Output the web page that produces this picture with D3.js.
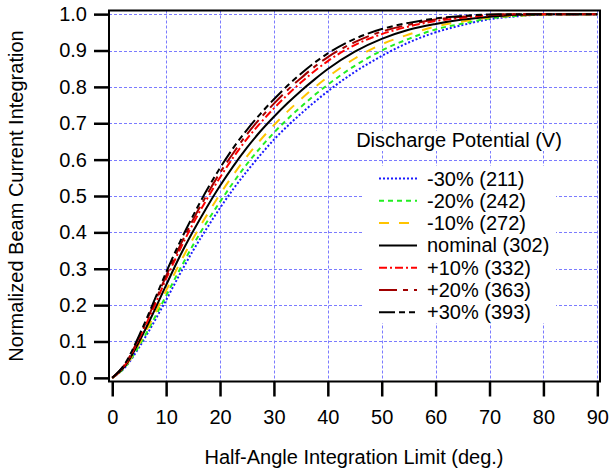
<!DOCTYPE html>
<html>
<head>
<meta charset="utf-8">
<script src="https://cdn.jsdelivr.net/npm/d3@7"></script>
<style>
  html, body { margin: 0; padding: 0; background: #fff; }
  svg { display: block; font-family: "Liberation Sans", Arial, sans-serif; }
</style>
</head>
<body>
<svg id="chart" width="616" height="473"></svg>
<script>
// Half-angle integration limit (deg.)
const angles = [0, 2.5, 5, 7.5, 10, 12.5, 15, 17.5, 20, 22.5, 25, 27.5, 30, 32.5, 35, 37.5, 40, 45, 50, 55, 60, 65, 70, 75, 80, 85, 90];

// Normalized beam current integration for each discharge potential
const minus30 = [0, 0.031, 0.084, 0.147, 0.214, 0.284, 0.350, 0.410, 0.467, 0.520, 0.568, 0.613, 0.655, 0.692, 0.726, 0.758, 0.788, 0.841, 0.885, 0.922, 0.950, 0.970, 0.986, 0.994, 0.999, 1.0, 1.0];
const minus20 = [0, 0.032, 0.088, 0.155, 0.226, 0.297, 0.365, 0.427, 0.484, 0.538, 0.588, 0.633, 0.674, 0.711, 0.745, 0.777, 0.806, 0.858, 0.900, 0.932, 0.958, 0.974, 0.988, 0.995, 0.999, 1.0, 1.0];
const minus10 = [0, 0.033, 0.094, 0.164, 0.240, 0.314, 0.383, 0.446, 0.505, 0.559, 0.609, 0.654, 0.695, 0.732, 0.766, 0.798, 0.827, 0.878, 0.917, 0.944, 0.966, 0.980, 0.991, 0.996, 0.999, 1.0, 1.0];
const nominal = [0, 0.035, 0.100, 0.175, 0.255, 0.333, 0.403, 0.468, 0.528, 0.583, 0.633, 0.678, 0.718, 0.755, 0.789, 0.820, 0.849, 0.897, 0.932, 0.957, 0.973, 0.985, 0.993, 0.998, 1.0, 1.0, 1.0];
const plus10 = [0, 0.038, 0.108, 0.187, 0.272, 0.351, 0.424, 0.490, 0.551, 0.607, 0.657, 0.701, 0.741, 0.778, 0.812, 0.843, 0.871, 0.915, 0.945, 0.966, 0.981, 0.990, 0.997, 1.0, 1.0, 1.0, 1.0];
const plus20 = [0, 0.040, 0.112, 0.195, 0.280, 0.361, 0.435, 0.502, 0.564, 0.619, 0.670, 0.714, 0.754, 0.791, 0.824, 0.855, 0.882, 0.923, 0.952, 0.971, 0.985, 0.993, 0.998, 1.0, 1.0, 1.0, 1.0];
const plus30 = [0, 0.042, 0.117, 0.202, 0.290, 0.372, 0.446, 0.515, 0.577, 0.633, 0.682, 0.726, 0.766, 0.803, 0.836, 0.866, 0.892, 0.932, 0.959, 0.976, 0.988, 0.995, 0.999, 1.0, 1.0, 1.0, 1.0];

const seriesLabels = ["-30% (211)", "-20% (242)", "-10% (272)", "nominal (302)", "+10% (332)", "+20% (363)", "+30% (393)"];
const seriesValues = [minus30, minus20, minus10, nominal, plus10, plus20, plus30];
const seriesColors = ["#1a1aff", "#22ee22", "#ffc400", "#000000", "#ff0000", "#a00000", "#000000"];
const seriesDashes = ["2,2", "5,4", "10,10", null, "8,3,2,3", "18,6,5,6", "16,4,6,4,6,4"];

const xTicks = [0, 10, 20, 30, 40, 50, 60, 70, 80, 90];
const yTicks = [0.0, 0.1, 0.2, 0.3, 0.4, 0.5, 0.6, 0.7, 0.8, 0.9, 1.0];

const legendTitle = "Discharge Potential (V)";
const xTitle = "Half-Angle Integration Limit (deg.)";
const yTitle = "Normalized Beam Current Integration";

const fontSize = 20;
const plot = { left: 109, right: 600, top: 10.5, bottom: 381.5 };

const svg = d3.select("#chart");

const x = d3.scaleLinear().domain([-0.6, 90.5]).range([plot.left, plot.right]);
const y = d3.scaleLinear().domain([-0.01, 1.01]).range([plot.bottom, plot.top]);

// grid
const grid = svg.append("g").attr("stroke", "#7b7bff").attr("stroke-width", 1).attr("stroke-dasharray", "3,2");
grid.selectAll("line.gx").data(xTicks.slice(1)).join("line")
  .attr("x1", d => Math.round(x(d)) + 0.5).attr("x2", d => Math.round(x(d)) + 0.5)
  .attr("y1", plot.top).attr("y2", plot.bottom);
grid.selectAll("line.gy").data(yTicks.slice(1)).join("line")
  .attr("x1", plot.left).attr("x2", plot.right)
  .attr("y1", d => Math.round(y(d)) + 0.5).attr("y2", d => Math.round(y(d)) + 0.5);

// curves
svg.append("clipPath").attr("id", "plotclip").append("rect")
  .attr("x", plot.left).attr("y", plot.top)
  .attr("width", plot.right - plot.left).attr("height", plot.bottom - plot.top);

const line = d3.line().x(d => x(d[0])).y(d => y(d[1])).curve(d3.curveMonotoneX);
const curves = svg.append("g").attr("clip-path", "url(#plotclip)");
seriesValues.forEach((vals, i) => {
  curves.append("path")
    .datum(angles.map((a, j) => [a, vals[j]]))
    .attr("fill", "none")
    .attr("stroke", seriesColors[i])
    .attr("stroke-width", 2)
    .attr("stroke-dasharray", seriesDashes[i])
    .attr("d", line);
});

// legend
const lg = svg.append("g");
const titleText = lg.append("text")
  .attr("x", 459).attr("y", 147)
  .attr("text-anchor", "middle")
  .attr("font-size", fontSize)
  .attr("fill", "#000")
  .text(legendTitle);
const tb = titleText.node().getBBox();
lg.insert("rect", "text")
  .attr("x", tb.x).attr("y", tb.y + 2).attr("width", tb.width).attr("height", tb.height - 2)
  .attr("fill", "#fff");
lg.append("rect").attr("x", 363).attr("y", 166).attr("width", 193).attr("height", 157).attr("fill", "#fff");
seriesLabels.forEach((lab, i) => {
  const yy = 178.5 + i * 22.3;
  lg.append("line")
    .attr("x1", 379).attr("x2", 417).attr("y1", yy).attr("y2", yy)
    .attr("stroke", seriesColors[i]).attr("stroke-width", 2)
    .attr("stroke-dasharray", seriesDashes[i]);
  lg.append("text")
    .attr("x", 427).attr("y", yy + 7)
    .attr("font-size", fontSize)
    .attr("fill", "#000")
    .text(lab);
});

// frame
svg.append("rect")
  .attr("x", plot.left).attr("y", plot.top)
  .attr("width", plot.right - plot.left).attr("height", plot.bottom - plot.top)
  .attr("fill", "none").attr("stroke", "#000").attr("stroke-width", 2);

// axes
const xAxis = d3.axisBottom(x).tickValues(xTicks).tickSize(15).tickPadding(13).tickFormat(d3.format("d"));
const gx = svg.append("g").attr("transform", `translate(0,${plot.bottom})`).call(xAxis);
gx.select(".domain").remove();
gx.selectAll(".tick line").attr("stroke", "#000").attr("stroke-width", 2.5);
gx.selectAll(".tick text").attr("font-size", fontSize).attr("fill", "#000").attr("font-family", "Liberation Sans, Arial, sans-serif");

const yAxis = d3.axisLeft(y).tickValues(yTicks).tickSize(15).tickPadding(7).tickFormat(d3.format(".1f"));
const gy = svg.append("g").attr("transform", `translate(${plot.left},0)`).call(yAxis);
gy.select(".domain").remove();
gy.selectAll(".tick line").attr("stroke", "#000").attr("stroke-width", 2.5);
gy.selectAll(".tick text").attr("font-size", fontSize).attr("fill", "#000").attr("font-family", "Liberation Sans, Arial, sans-serif");

// axis titles
svg.append("text")
  .attr("x", 354).attr("y", 464)
  .attr("text-anchor", "middle")
  .attr("font-size", fontSize)
  .text(xTitle);
svg.append("text")
  .attr("transform", "translate(23,196) rotate(-90)")
  .attr("text-anchor", "middle")
  .attr("font-size", fontSize)
  .text(yTitle);
</script>
</body>
</html>
